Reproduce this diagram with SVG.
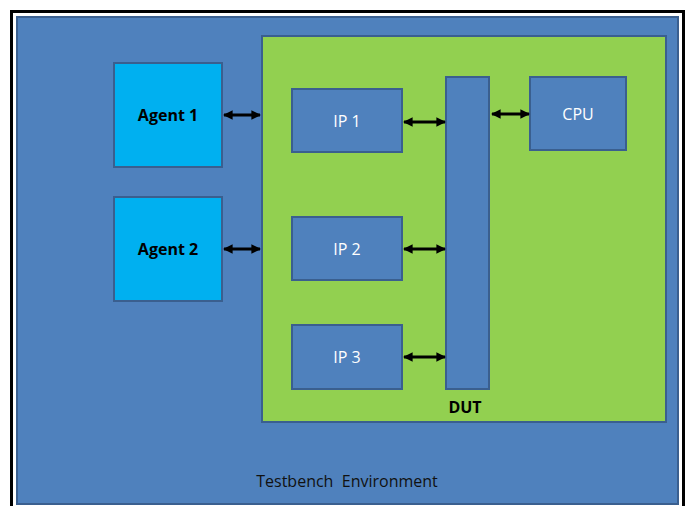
<svg xmlns="http://www.w3.org/2000/svg" width="688" height="506" viewBox="0 0 688 506">
<style>
.blk{fill:#4F81BD;stroke:#3A5F8F;stroke-width:2}
.agent{fill:#00B0F0;stroke:#3A5F8F;stroke-width:2}
.lbl{font-family:"Open Sans","Liberation Sans",sans-serif;font-size:16px;fill:#fff;text-anchor:middle;dominant-baseline:central}
.blab{font-family:"Open Sans","Liberation Sans",sans-serif;font-size:16px;font-weight:bold;fill:#000;text-anchor:middle;dominant-baseline:central}
.conn{stroke:#000;stroke-width:3;fill:none;marker-start:url(#ah);marker-end:url(#ah)}
</style>
<defs>
<marker id="ah" viewBox="0 0 10 10" refX="9" refY="5" markerWidth="3.2" markerHeight="3.2" orient="auto-start-reverse" markerUnits="strokeWidth">
<path d="M0,0 L10,5 L0,10 z" fill="#000"/>
</marker>
</defs>
<rect x="0" y="0" width="688" height="506" fill="#fff"/>
<rect x="11.5" y="11.5" width="672" height="500" fill="none" stroke="#000" stroke-width="3"/>
<g id="env">
<rect x="17" y="17" width="661" height="487" class="blk"/>
<text x="347" y="481" font-family="Open Sans,Liberation Sans,sans-serif" font-size="16" fill="#111" text-anchor="middle" dominant-baseline="central" xml:space="preserve">Testbench  Environment</text>
</g>
<g id="dut">
<rect x="262" y="36" width="404" height="386" fill="#92D050" stroke="#3A5F8F" stroke-width="2"/>
<text x="465" y="407" class="blab">DUT</text>
</g>
<g id="agent1"><rect x="114" y="63" width="108" height="104" class="agent"/><text x="168" y="115" class="blab">Agent 1</text></g>
<g id="agent2"><rect x="114" y="197" width="108" height="104" class="agent"/><text x="168" y="249" class="blab">Agent 2</text></g>
<g id="ip1"><rect x="292" y="89" width="110" height="63" class="blk"/><text x="347" y="121" class="lbl">IP 1</text></g>
<g id="ip2"><rect x="292" y="217" width="110" height="63" class="blk"/><text x="347" y="249" class="lbl">IP 2</text></g>
<g id="ip3"><rect x="292" y="325" width="110" height="64" class="blk"/><text x="347" y="357" class="lbl">IP 3</text></g>
<g id="bus"><rect x="446" y="77" width="43" height="312" class="blk"/></g>
<g id="cpu"><rect x="530" y="77" width="96" height="73" class="blk"/><text x="578" y="114" class="lbl">CPU</text></g>
<g id="connectors">
<line x1="224" y1="115" x2="260" y2="115" class="conn"/>
<line x1="224" y1="249" x2="260" y2="249" class="conn"/>
<line x1="404" y1="122" x2="445" y2="122" class="conn"/>
<line x1="404" y1="249" x2="445" y2="249" class="conn"/>
<line x1="404" y1="357" x2="445" y2="357" class="conn"/>
<line x1="492" y1="114" x2="529" y2="114" class="conn"/>
</g>
</svg>
